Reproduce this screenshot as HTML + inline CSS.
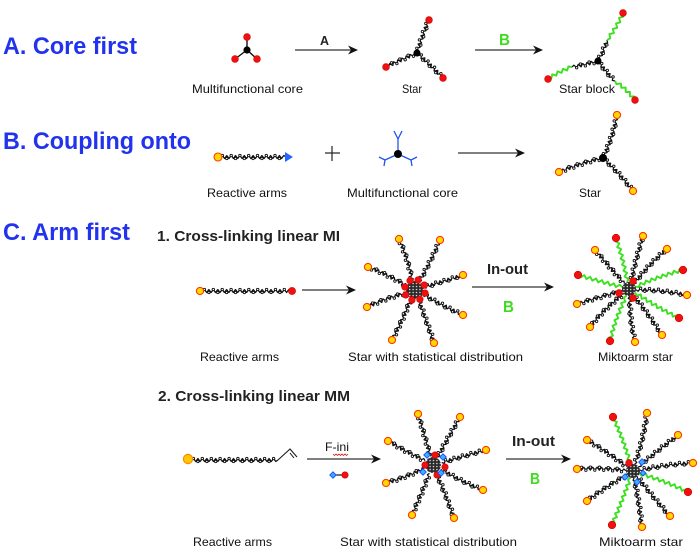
<!DOCTYPE html>
<html><head><meta charset="utf-8">
<style>
html,body{margin:0;padding:0;background:#fff;}
svg{display:block;}
text{font-family:"Liberation Sans",Arial,sans-serif;}
.t{font-size:24px;font-weight:bold;fill:#2233ee;}
.s{font-size:15px;font-weight:bold;fill:#222;}
.l{font-size:12px;fill:#111;}
.g{font-size:16px;font-weight:bold;fill:#3ddc1e;}
</style></head><body>
<svg id="s" width="700" height="548" viewBox="0 0 700 548" xmlns="http://www.w3.org/2000/svg">
<defs>
<pattern id="mesh" width="3.4" height="3" patternUnits="userSpaceOnUse"><rect width="3.4" height="3" fill="#2a2a2a"/><circle cx="1.7" cy="1.5" r="0.75" fill="#e0e0e0"/></pattern>
</defs>
<g id="shapes"></g>

<text class="t" x="3" y="54" textLength="134" lengthAdjust="spacingAndGlyphs">A. Core first</text>
<text class="t" x="3" y="149" textLength="188" lengthAdjust="spacingAndGlyphs">B. Coupling onto</text>
<text class="t" x="3" y="240" textLength="127" lengthAdjust="spacingAndGlyphs">C. Arm first</text>
<text class="s" x="157" y="241" textLength="183" lengthAdjust="spacingAndGlyphs">1. Cross-linking linear MI</text>
<text class="s" x="158" y="401" textLength="192" lengthAdjust="spacingAndGlyphs">2. Cross-linking linear MM</text>

<text x="320" y="45" style="font-size:13px;font-weight:bold;fill:#222" textLength="9" lengthAdjust="spacingAndGlyphs">A</text>
<text class="g" x="499" y="45" textLength="11" lengthAdjust="spacingAndGlyphs">B</text>
<text class="s" x="487" y="274" textLength="41" lengthAdjust="spacingAndGlyphs">In-out</text>
<text class="g" x="503" y="312" textLength="11" lengthAdjust="spacingAndGlyphs">B</text>
<text class="s" x="512" y="446" textLength="43" lengthAdjust="spacingAndGlyphs">In-out</text>
<text class="g" x="530" y="484" textLength="10" lengthAdjust="spacingAndGlyphs">B</text>

<text class="l" x="192" y="93" textLength="111" lengthAdjust="spacingAndGlyphs">Multifunctional core</text>
<text class="l" x="402" y="93" textLength="20" lengthAdjust="spacingAndGlyphs">Star</text>
<text class="l" x="559" y="93" textLength="56" lengthAdjust="spacingAndGlyphs">Star block</text>
<text class="l" x="207" y="197" textLength="80" lengthAdjust="spacingAndGlyphs">Reactive arms</text>
<text class="l" x="347" y="197" textLength="111" lengthAdjust="spacingAndGlyphs">Multifunctional core</text>
<text class="l" x="579" y="197" textLength="22" lengthAdjust="spacingAndGlyphs">Star</text>
<text class="l" x="200" y="361" textLength="79" lengthAdjust="spacingAndGlyphs">Reactive arms</text>
<text class="l" x="348" y="361" textLength="175" lengthAdjust="spacingAndGlyphs">Star with statistical distribution</text>
<text class="l" x="598" y="361" textLength="75" lengthAdjust="spacingAndGlyphs">Miktoarm star</text>
<text class="l" x="193" y="546" textLength="79" lengthAdjust="spacingAndGlyphs">Reactive arms</text>
<text class="l" x="340" y="546" textLength="177" lengthAdjust="spacingAndGlyphs">Star with statistical distribution</text>
<text class="l" x="599" y="546" textLength="84" lengthAdjust="spacingAndGlyphs">Miktoarm star</text>
<text class="l" x="325" y="451" textLength="24" lengthAdjust="spacingAndGlyphs">F-ini</text>
</svg>
<script>
(function(){
var NS='http://www.w3.org/2000/svg';
var g=document.getElementById('shapes');
function el(tag,a){var e=document.createElementNS(NS,tag);for(var k in a)e.setAttribute(k,a[k]);g.appendChild(e);return e;}
var seed=1;function rnd(){seed=(seed*9301+49297)%233280;return seed/233280;}
function chain(x1,y1,x2,y2,o){
  o=o||{};var color=o.color||'#000';var green=color!=='#000';
  var bend=(o.bend!==undefined)?o.bend:(rnd()-0.5)*6;
  var amp=green?1.6:1.5, step=green?3:2.2;
  var dx=x2-x1,dy=y2-y1,L=Math.hypot(dx,dy);if(L<1)return;
  var nx=-dy/L,ny=dx/L;
  var cx=(x1+x2)/2+nx*bend,cy=(y1+y2)/2+ny*bend;
  var n=Math.max(2,Math.round(L/step));var d='';var pts=[];
  for(var i=0;i<=n;i++){var t=i/n;
    var bx=(1-t)*(1-t)*x1+2*(1-t)*t*cx+t*t*x2;
    var by=(1-t)*(1-t)*y1+2*(1-t)*t*cy+t*t*y2;
    pts.push([bx,by]);
    var s=(i===0||i===n)?0:((i%2)?1:-1)*amp;
    d+=(i?'L':'M')+(bx+nx*s).toFixed(1)+' '+(by+ny*s).toFixed(1);}
  el('path',{d:d,fill:'none',stroke:green?color:'#111','stroke-width':green?1.9:1.25,'stroke-linejoin':'round'});
  if(!green&&o.loops!==false){
    var k=0;for(var j=2;j<pts.length-2;j+=2){k++;var p=pts[j];var sd=(k%2===0)?1.5:-1.5;
      el('circle',{cx:(p[0]+nx*sd).toFixed(1),cy:(p[1]+ny*sd).toFixed(1),r:1.2,fill:'#fff',stroke:'#111','stroke-width':0.9});}
  }
}
function dot(x,y,r,fill,stroke,sw){el('circle',{cx:x,cy:y,r:r,fill:fill,stroke:stroke||'none','stroke-width':sw||0});}
function red(x,y,r){dot(x,y,r||3.4,'#f01010','#d00000',0.6);}
function yel(x,y,r){dot(x,y,r||3.4,'#ffd800','#ff3a00',1.1);}
function diam(x,y,s){s=s||3.3;el('polygon',{points:(x)+','+(y-s)+' '+(x+s)+','+y+' '+x+','+(y+s)+' '+(x-s)+','+y,fill:'#39b0ff',stroke:'#1f4cff','stroke-width':0.9});}
function arrow(x1,x2,y){el('line',{x1:x1,y1:y,x2:x2-5,y2:y,stroke:'#555','stroke-width':1.6});
  el('path',{d:'M'+x2+' '+y+' L'+(x2-10)+' '+(y-4.5)+' L'+(x2-7)+' '+y+' L'+(x2-10)+' '+(y+4.5)+' Z',fill:'#111'});}
function startPt(c,e,r){var dx=e[0]-c[0],dy=e[1]-c[1],L=Math.hypot(dx,dy);return [c[0]+dx/L*r,c[1]+dy/L*r];}

/* ---------- A row ---------- */
[[247,37],[235,59],[257,59]].forEach(function(p){el('line',{x1:247,y1:50,x2:p[0],y2:p[1],stroke:'#111','stroke-width':1.4});});
dot(247,50,3.6,'#000');
red(247,37);red(235,59);red(257,59);
arrow(295,358,50);
[[429,20],[386,67],[443,78]].forEach(function(e){chain(417,53,e[0],e[1]);});
dot(417,53,3.5,'#000');
red(429,20);red(386,67);red(443,78);
arrow(475,543,50);
chain(598,61,607,40,{bend:1});chain(607,40,623,13,{color:'#3de020',bend:2});
chain(598,61,572,67,{bend:-1});chain(572,67,548,79,{color:'#3de020',bend:2});
chain(598,61,615,81,{bend:1});chain(615,81,635,100,{color:'#3de020',bend:-2});
dot(598,61,3.5,'#000');
red(623,13);red(548,79);red(635,100);

/* ---------- B row ---------- */
chain(218,157,286,157,{bend:0});
el('polygon',{points:'285,152 293,157 285,162',fill:'#2266ff'});
yel(218,157,4);
el('line',{x1:325,y1:153,x2:340,y2:153,stroke:'#222','stroke-width':1.2});
el('line',{x1:332,y1:146,x2:332,y2:161,stroke:'#222','stroke-width':1.2});
var bl={stroke:'#2255ee','stroke-width':1.3,fill:'none'};
function bline(a,b,c,d){var o={x1:a,y1:b,x2:c,y2:d};for(var k in bl)o[k]=bl[k];el('line',o);}
bline(398,154,398,139);bline(398,139,394,131);bline(398,139,402,131);
bline(398,154,385,160);bline(385,160,379,157);bline(385,160,384,166);
bline(398,154,411,160);bline(411,160,417,157);bline(411,160,412,166);
dot(398,154,4,'#000');
arrow(458,525,153);
[[617,115],[559,172],[633,191]].forEach(function(e){chain(603,158,e[0],e[1]);});
dot(603,158,4,'#000');
yel(617,115,3.6);yel(559,172,3.6);yel(633,191,3.6);

/* ---------- C1 ---------- */
chain(200,291,291,291,{bend:0});
yel(200,291,3.6);red(292,291,3.6);
arrow(302,356,290);
var c1=[415,290];
var e1=[[399,239],[440,240],[368,267],[463,275],[367,307],[463,315],[392,340],[434,343]];
e1.forEach(function(e){var s=startPt(c1,e,9);chain(s[0],s[1],e[0],e[1]);});
dot(415,290,9,'url(#mesh)');
for(var i=0;i<8;i++){var a=i*Math.PI/4+0.3;red(415+Math.cos(a)*10.5,290+Math.sin(a)*10.5,3.3);}
e1.forEach(function(e){yel(e[0],e[1],3.6);});
arrow(472,554,287);
var m1=[629,289];
var y1=[[643,236],[595,250],[667,249],[687,295],[577,304],[590,327],[662,335],[635,342]];
var r1=[[616,238],[578,275],[683,270],[679,318],[610,341]];
y1.forEach(function(e){var s=startPt(m1,e,7);chain(s[0],s[1],e[0],e[1]);});
r1.forEach(function(e){var s=startPt(m1,e,7);chain(s[0],s[1],e[0],e[1],{color:'#3de020'});});
dot(629,289,7,'url(#mesh)');
red(633,281,3.4);red(619,293,3.4);red(633,298,3.4);
y1.forEach(function(e){yel(e[0],e[1],3.6);});
r1.forEach(function(e){red(e[0],e[1],3.8);});

/* ---------- C2 ---------- */
chain(189,460,278,460,{bend:0});
el('polyline',{points:'278,460 290,449 297,457',fill:'none',stroke:'#111','stroke-width':1});
el('line',{x1:290,y1:453,x2:294,y2:458,stroke:'#111','stroke-width':1});
dot(188,459,4.6,'#ffc800','#ff8a00',1.2);
arrow(307,381,459);
el('path',{d:'M333 454 l1.5 1.5 l1.5 -1.5 l1.5 1.5 l1.5 -1.5 l1.5 1.5 l1.5 -1.5 l1.5 1.5 l1.5 -1.5 l1.5 1.5 l1.5 -1.5',fill:'none',stroke:'#e02020','stroke-width':0.8});
el('line',{x1:333,y1:475,x2:345,y2:475,stroke:'#111','stroke-width':1.2});
diam(333,475,3.2);red(345,475,3.2);
var c2=[433,465];
var e2=[[418,414],[460,417],[388,441],[486,450],[386,483],[483,490],[412,515],[454,518]];
e2.forEach(function(e){var s=startPt(c2,e,9);chain(s[0],s[1],e[0],e[1]);});
dot(433,465,8,'url(#mesh)');
red(435,455,3.2);red(425,465,3.2);red(445,467,3.2);red(437,475,3.2);
diam(427,455);diam(443,457);diam(423,472);diam(441,473);
e2.forEach(function(e){yel(e[0],e[1],3.6);});
arrow(506,571,459);
var m2=[633,471];
var y2=[[647,413],[587,440],[678,435],[693,463],[577,469],[587,501],[670,516],[642,527]];
var r2=[[613,417],[688,492],[612,525]];
y2.forEach(function(e){var s=startPt(m2,e,7);chain(s[0],s[1],e[0],e[1]);});
r2.forEach(function(e){var s=startPt(m2,e,7);chain(s[0],s[1],e[0],e[1],{color:'#3de020'});});
dot(633,471,7,'url(#mesh)');
red(629,463,3.4);diam(642,462);diam(625,477);diam(637,482);diam(643,473,2.8);
y2.forEach(function(e){yel(e[0],e[1],3.6);});
r2.forEach(function(e){red(e[0],e[1],3.8);});
})();
</script>
</body></html>
